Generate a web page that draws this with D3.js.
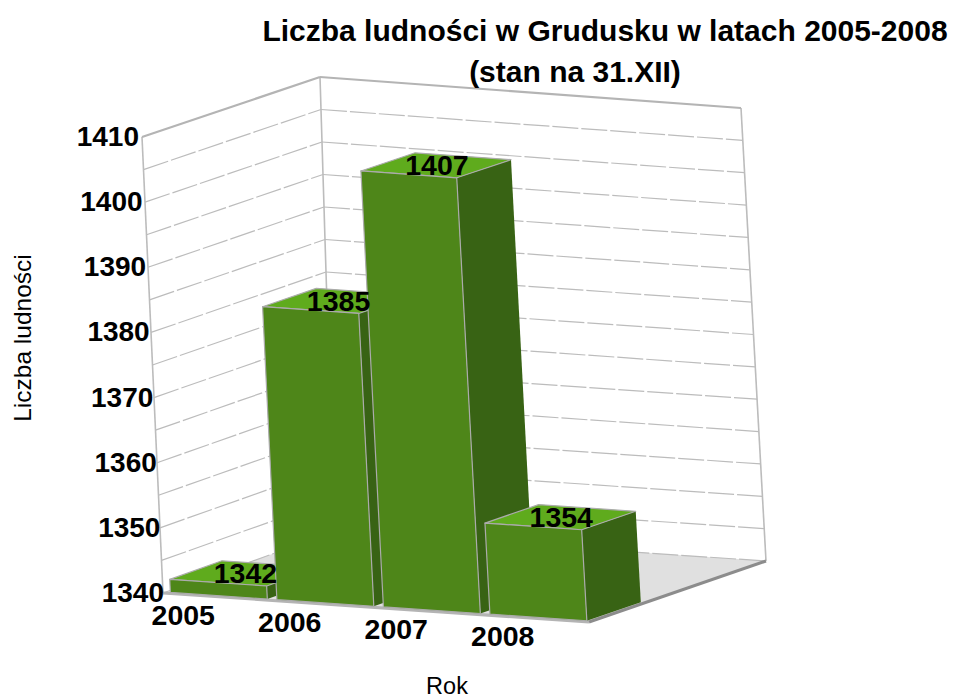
<!DOCTYPE html>
<html lang="pl">
<head>
  <meta charset="UTF-8">
  <title>Liczba ludności w Grudusku</title>
  <style>
    html, body { margin: 0; padding: 0; background: #fff; }
    svg { display: block; }
    text { font-family: "Liberation Sans", Arial, sans-serif; fill: #000; }
    .bold { font-weight: bold; }
  </style>
</head>
<body>
<div id="chart"></div>
<script src="https://d3js.org/d3.v7.min.js"></script>
<script>
  const years = ['2005', '2006', '2007', '2008'];
  const population = [1342, 1385, 1407, 1354];
  const yTicks = [1340, 1350, 1360, 1370, 1380, 1390, 1400, 1410];
  const titleLines = ['Liczba ludności w Grudusku w latach 2005-2008', '(stan na 31.XII)'];

  const width = 966;
  const height = 700;

  // screen position of the eight corners of the 3d box
  const floorCorners = { fl: [163, 593], fr: [589, 622], bl: [334, 532], br: [766, 561] };
  const topCorners = { fl: [142, 137], fr: [563, 167], bl: [320, 77], br: [741, 108] };

  const x = d3.scaleBand().domain(years).range([0, 1]).paddingInner(0.09).paddingOuter(0.045);
  const y = d3.scaleLinear().domain([1340, 1410]).range([0, 1]);
  const depth = d3.scaleLinear().domain([0, 1]).range([0.015, 0.32]);

  // box coordinates (u across, v into the page, w up) to screen
  function project(u, v, w) {
    const mix = c => {
      const front = d3.interpolateNumber(c.fl[0], c.fr[0])(u);
      const back = d3.interpolateNumber(c.bl[0], c.br[0])(u);
      const frontY = d3.interpolateNumber(c.fl[1], c.fr[1])(u);
      const backY = d3.interpolateNumber(c.bl[1], c.br[1])(u);
      return [front + (back - front) * v, frontY + (backY - frontY) * v];
    };
    const a = mix(floorCorners);
    const b = mix(topCorners);
    return [a[0] + (b[0] - a[0]) * w, a[1] + (b[1] - a[1]) * w];
  }

  const line = d3.line();
  const svg = d3.select('#chart').append('svg')
    .attr('width', width)
    .attr('height', height);

  function poly(points, fill, stroke, strokeWidth) {
    return svg.append('path')
      .attr('d', line(points) + 'Z')
      .attr('fill', fill)
      .attr('stroke', stroke || 'none')
      .attr('stroke-width', strokeWidth || 0)
      .attr('stroke-linejoin', 'round');
  }

  function seg(a, b, color, w, dash) {
    svg.append('path')
      .attr('d', line([a, b]))
      .attr('fill', 'none')
      .attr('stroke', color)
      .attr('stroke-width', w)
      .attr('stroke-dasharray', dash || null);
  }

  // floor
  poly([project(0, 0, 0), project(1, 0, 0), project(1, 1, 0), project(0, 1, 0)], '#e0e0e0');

  // grid every 5 people on the left and back walls
  const gridColor = '#bcbcbc';
  const gridValues = y.ticks(14);
  gridValues.forEach(d => {
    const w = y(d);
    if (d === 1410) return;
    seg(project(0, 0, w), project(0, 1, w), gridColor, 1.2, '26 3');
    seg(project(0, 1, w), project(1, 1, w), gridColor, 1.2, '26 3');
  });

  // wall outline
  seg(project(0, 0, 0), project(0, 0, 1), gridColor, 1.6);
  seg(project(0, 1, 0), project(0, 1, 1), gridColor, 1.6);
  seg(project(1, 1, 0), project(1, 1, 1), gridColor, 1.6);
  seg(project(0, 0, 1), project(0, 1, 1), '#b4b4b4', 2.2);
  seg(project(0, 1, 1), project(1, 1, 1), '#b4b4b4', 2.2);

  // floor edges
  seg(project(0, 0, 0), project(1, 0, 0), '#b4b4b4', 3);
  seg(project(1, 0, 0), project(1, 1, 0), '#8c8c8c', 3);

  // bars, left to right so the next bar covers the previous side
  const edge = '#ababab';
  years.forEach((year, i) => {
    const u0 = x(year);
    const u1 = u0 + x.bandwidth();
    const v0 = depth(0);
    const v1 = depth(1);
    const w = y(population[i]);

    poly([project(u1, v0, 0), project(u1, v1, 0), project(u1, v1, w), project(u1, v0, w)], '#386314');
    poly([project(u0, v0, w), project(u1, v0, w), project(u1, v1, w), project(u0, v1, w)], '#5fab1d', edge, 1.2);
    poly([project(u0, v0, 0), project(u1, v0, 0), project(u1, v0, w), project(u0, v0, w)], '#4e8619', edge, 1.2);
  });

  // value labels sit on the middle of each top face
  years.forEach((year, i) => {
    const p = project(x(year) + x.bandwidth() / 2, depth(0.5), y(population[i]));
    svg.append('text')
      .attr('class', 'bold')
      .attr('x', p[0] + 1)
      .attr('y', p[1] + 10)
      .attr('text-anchor', 'middle')
      .style('font-size', '28.5px')
      .text(population[i]);
  });

  // value axis labels, the lower ones sit closer to the wall
  yTicks.forEach(d => {
    const w = y(d);
    const p = project(0, 0, w);
    svg.append('text')
      .attr('class', 'bold')
      .attr('x', p[0] + 1 - 4 * w)
      .attr('y', p[1] + 9)
      .attr('text-anchor', 'end')
      .style('font-size', '28px')
      .text(d);
  });

  // category labels
  years.forEach(year => {
    const p = project(x(year) + x.bandwidth() / 2, 0, 0);
    svg.append('text')
      .attr('class', 'bold')
      .attr('x', p[0] - 33)
      .attr('y', p[1] + 28)
      .attr('text-anchor', 'middle')
      .style('font-size', '28.5px')
      .text(year);
  });

  const titleX = [605, 575];
  titleLines.forEach((t, i) => {
    svg.append('text')
      .attr('class', 'bold')
      .attr('x', titleX[i])
      .attr('y', 41 + i * 41)
      .attr('text-anchor', 'middle')
      .style('font-size', '30px')
      .text(t);
  });

  svg.append('text')
    .attr('transform', 'translate(31,338) rotate(-90)')
    .attr('text-anchor', 'middle')
    .style('font-size', '24.5px')
    .text('Liczba ludności');

  svg.append('text')
    .attr('x', 447)
    .attr('y', 694)
    .attr('text-anchor', 'middle')
    .style('font-size', '23.5px')
    .text('Rok');
</script>
</body>
</html>
